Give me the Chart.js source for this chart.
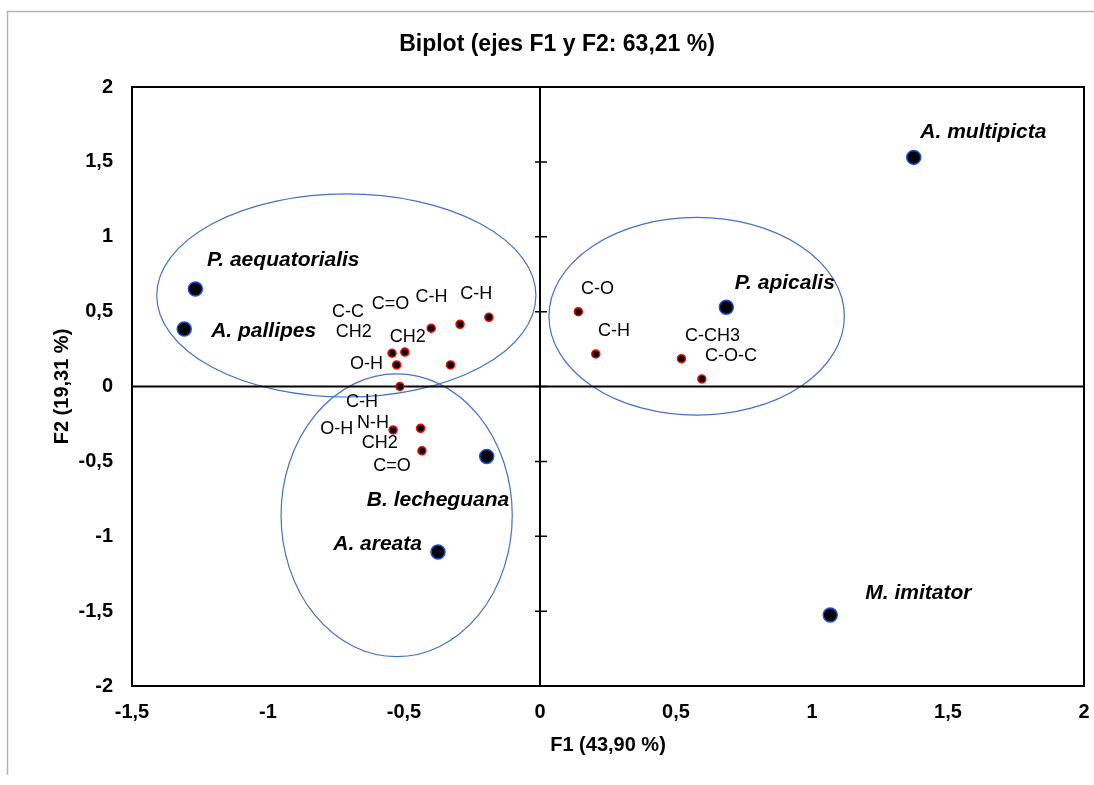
<!DOCTYPE html>
<html>
<head>
<meta charset="utf-8">
<script src="https://cdn.jsdelivr.net/npm/chart.js@4/dist/chart.umd.min.js"></script>
<style>
  html, body { margin: 0; padding: 0; background: #ffffff; }
  #wrap { width: 1094px; height: 785px; position: relative; }
</style>
</head>
<body>
<div id="wrap"><canvas id="c" width="1094" height="785"></canvas></div>
<script>
// ---- Data ----
const titleText = 'Biplot (ejes F1 y F2: 63,21 %)';
const xTitle = 'F1 (43,90 %)';
const yTitle = 'F2 (19,31 %)';

const speciesNames = ['P. aequatorialis', 'A. pallipes', 'B. lecheguana', 'A. areata', 'P. apicalis', 'A. multipicta', 'M. imitator'];
const speciesX = [-1.267, -1.308, -0.196, -0.375, 0.685, 1.374, 1.067];
const speciesY = [0.651, 0.384, -0.467, -1.105, 0.529, 1.530, -1.526];
const speciesLabelX = [-0.944, -1.016, -0.375, -0.597, 0.900, 1.630, 1.391];
const speciesLabelY = [0.845, 0.366, -0.758, -1.052, 0.689, 1.697, -1.379];

const varX = [-0.400, -0.294, -0.188, -0.544, -0.497, -0.527, -0.329, -0.515, -0.540, -0.439, -0.434, 0.141, 0.205, 0.520, 0.595];
const varY = [0.389, 0.415, 0.462, 0.222, 0.230, 0.144, 0.144, 0.000, -0.290, -0.279, -0.429, 0.500, 0.217, 0.186, 0.050];

const varLabelText = ['C-C', 'CH2', 'C=O', 'C-H', 'C-H', 'CH2', 'O-H', 'C-H', 'O-H', 'N-H', 'CH2', 'C=O', 'C-O', 'C-H', 'C-CH3', 'C-O-C'];
const varLabelX = [-0.706, -0.685, -0.550, -0.399, -0.234, -0.486, -0.638, -0.654, -0.747, -0.614, -0.589, -0.544, 0.211, 0.272, 0.634, 0.702];
const varLabelY = [0.496, 0.366, 0.549, 0.600, 0.618, 0.333, 0.150, -0.106, -0.286, -0.246, -0.379, -0.531, 0.649, 0.373, 0.337, 0.206];

const ellipseCX = [-0.712, -0.527, 0.576];
const ellipseCY = [0.608, -0.860, 0.469];
const ellipseRX = [0.697, 0.425, 0.543];
const ellipseRY = [0.678, 0.944, 0.660];

const xMin = -1.5, xMax = 2, yMin = -2, yMax = 2, tickStep = 0.5;

// ---- Helpers ----
const FONT = '"Liberation Sans", Arial, Helvetica, sans-serif';
const fmt = v => String(Math.round(v * 100) / 100).replace('.', ',');

const decor = {
  id: 'decor',
  beforeDraw(chart) {
    const ctx = chart.ctx;
    ctx.save();
    ctx.fillStyle = '#ffffff';
    ctx.fillRect(0, 0, chart.width, chart.height);
    ctx.strokeStyle = '#b4b4b4';
    ctx.lineWidth = 1.5;
    ctx.beginPath();
    ctx.moveTo(7.5, 775);
    ctx.lineTo(7.5, 11.5);
    ctx.lineTo(chart.width, 11.5);
    ctx.stroke();
    ctx.restore();
  },
  beforeDatasetsDraw(chart) {
    const ctx = chart.ctx;
    const xs = chart.scales.x, ys = chart.scales.y;
    const a = chart.chartArea;
    ctx.save();
    ctx.strokeStyle = '#4472c4';
    ctx.lineWidth = 1.2;
    for (let i = 0; i < ellipseCX.length; i++) {
      const cx = xs.getPixelForValue(ellipseCX[i]);
      const cy = ys.getPixelForValue(ellipseCY[i]);
      const rx = Math.abs(xs.getPixelForValue(ellipseCX[i] + ellipseRX[i]) - cx);
      const ry = Math.abs(ys.getPixelForValue(ellipseCY[i] + ellipseRY[i]) - cy);
      ctx.beginPath();
      ctx.ellipse(cx, cy, rx, ry, 0, 0, Math.PI * 2);
      ctx.stroke();
    }
    const x0 = xs.getPixelForValue(0), y0 = ys.getPixelForValue(0);
    ctx.strokeStyle = '#000000';
    ctx.lineWidth = 2;
    ctx.beginPath();
    ctx.moveTo(x0, a.top); ctx.lineTo(x0, a.bottom);
    ctx.moveTo(a.left, y0); ctx.lineTo(a.right, y0);
    ctx.stroke();
    ctx.lineWidth = 1.5;
    ctx.beginPath();
    for (let v = yMin; v <= yMax + 1e-9; v += tickStep) {
      const py = ys.getPixelForValue(v);
      ctx.moveTo(x0 - 5, py); ctx.lineTo(x0 + 7, py);
    }
    ctx.stroke();
    ctx.lineWidth = 2;
    ctx.strokeRect(a.left, a.top, a.right - a.left, a.bottom - a.top);
    ctx.restore();
  },
  afterDatasetsDraw(chart) {
    const ctx = chart.ctx;
    const xs = chart.scales.x, ys = chart.scales.y;
    const a = chart.chartArea;
    ctx.save();
    ctx.fillStyle = '#000000';
    ctx.textAlign = 'center';
    ctx.textBaseline = 'middle';
    ctx.font = '18px ' + FONT;
    for (let i = 0; i < varLabelText.length; i++) {
      ctx.fillText(varLabelText[i], xs.getPixelForValue(varLabelX[i]), ys.getPixelForValue(varLabelY[i]));
    }
    ctx.font = 'italic bold 21px ' + FONT;
    for (let i = 0; i < speciesNames.length; i++) {
      ctx.fillText(speciesNames[i], xs.getPixelForValue(speciesLabelX[i]), ys.getPixelForValue(speciesLabelY[i]));
    }
    ctx.font = 'bold 23px ' + FONT;
    ctx.fillText(titleText, 557, 45);
    ctx.font = 'bold 20px ' + FONT;
    ctx.fillText(xTitle, (a.left + a.right) / 2, 745);
    ctx.translate(62, (a.top + a.bottom) / 2);
    ctx.rotate(-Math.PI / 2);
    ctx.fillText(yTitle, 0, 0);
    ctx.restore();
  }
};

const speciesPoints = speciesX.map((x, i) => ({ x, y: speciesY[i] }));
const varPoints = varX.map((x, i) => ({ x, y: varY[i] }));

new Chart(document.getElementById('c'), {
  type: 'scatter',
  data: {
    datasets: [
      {
        label: 'Variables',
        data: varPoints,
        pointRadius: 4,
        pointBackgroundColor: '#000000',
        pointBorderColor: '#ff0000',
        pointBorderWidth: 1.5
      },
      {
        label: 'Especies',
        data: speciesPoints,
        pointRadius: 7,
        pointBackgroundColor: '#000000',
        pointBorderColor: '#1a4fe0',
        pointBorderWidth: 1.5
      }
    ]
  },
  options: {
    responsive: false,
    animation: false,
    events: [],
    layout: { padding: { top: 87, right: 10, left: 0, bottom: 0 } },
    plugins: { legend: { display: false }, tooltip: { enabled: false }, title: { display: false } },
    scales: {
      x: {
        type: 'linear', min: xMin, max: xMax,
        grid: { display: false, drawTicks: false },
        border: { display: false },
        ticks: { stepSize: tickStep, padding: 14, color: '#000', font: { family: FONT, size: 20, weight: 'bold' }, callback: v => fmt(v), maxRotation: 0, autoSkip: false },
        afterFit: s => { s.height = 99; s.paddingRight = 0; s.paddingLeft = 0; }
      },
      y: {
        type: 'linear', min: yMin, max: yMax,
        grid: { display: false, drawTicks: false },
        border: { display: false },
        ticks: { stepSize: tickStep, padding: 19, color: '#000', font: { family: FONT, size: 20, weight: 'bold' }, callback: v => fmt(v), autoSkip: false },
        afterFit: s => { s.width = 132; s.paddingTop = 0; s.paddingBottom = 0; }
      }
    }
  },
  plugins: [decor]
});
</script>
</body>
</html>
